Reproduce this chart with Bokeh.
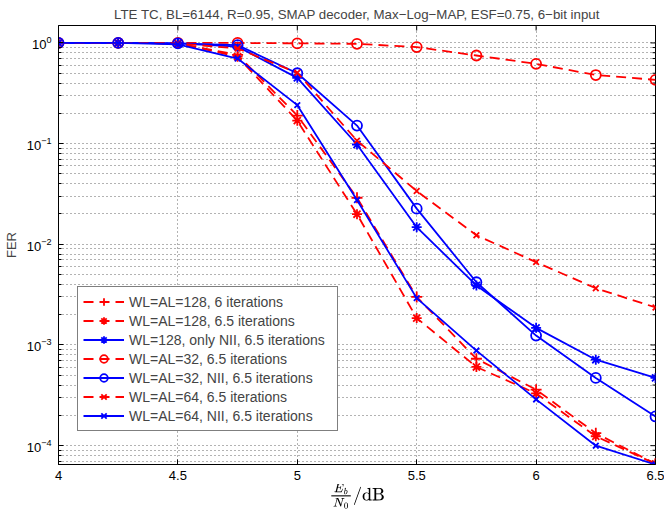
import math
from bokeh.plotting import figure
from bokeh.models import FixedTicker, Legend, LegendItem, Range1d, TeX
from bokeh.embed import file_html
from bokeh.resources import INLINE

# ---- data ----
ebn0 = [4.0, 4.25, 4.5, 4.75, 5.0, 5.25, 5.5, 5.75, 6.0, 6.25, 6.5]

fer_128_6it   = [1.0, 1.0, 0.99, 0.76, 0.19,  0.029,  0.0030, 7.3e-4, 3.6e-4,  1.33e-4, 6.6e-5]
fer_128_65it  = [1.0, 1.0, 0.99, 0.73, 0.169, 0.0199, 0.00185, 6.05e-4, 3.3e-4, 1.24e-4, 6.6e-5]
fer_128_nii   = [1.0, 1.0, 0.99, 0.92, 0.45,  0.098,  0.0148, 0.0039, 0.00148, 7.14e-4, 4.71e-4]
fer_32_65it   = [1.0, 1.0, 1.0,  1.0,  0.99,  0.98,   0.91,   0.75,   0.62,    0.48,    0.43]
fer_32_nii    = [1.0, 1.0, 0.99, 0.95, 0.50,  0.151,  0.0226, 0.0042, 0.00124, 4.71e-4, 1.95e-4]
fer_64_65it   = [1.0, 1.0, 0.99, 0.88, 0.506, 0.107,  0.0338, 0.0123, 0.00665, 0.00366, 0.00236]
fer_64_nii    = [1.0, 1.0, 0.97, 0.70, 0.241, 0.0275, 0.00292, 8.8e-4, 2.88e-4, 1.0e-4, 6.5e-5]

series_labels = [
    "WL=AL=128, 6 iterations",
    "WL=AL=128, 6.5 iterations",
    "WL=128, only NII, 6.5 iterations",
    "WL=AL=32, 6.5 iterations",
    "WL=AL=32, NII, 6.5 iterations",
    "WL=AL=64, 6.5 iterations",
    "WL=AL=64, NII, 6.5 iterations",
]

x_ticks = [4.0, 4.5, 5.0, 5.5, 6.0, 6.5]
y_ticks = [1e-4, 1e-3, 1e-2, 1e-1, 1.0]
y_minor = [m * 10.0 ** e for e in range(-5, 1) for m in range(2, 10)]

x_lo, x_hi = 4.0, 6.5
y_lo, y_hi = 6.5e-5, 1.49

title_text = "LTE TC, BL=6144, R=0.95, SMAP decoder, Max\u2212Log\u2212MAP, ESF=0.75, 6\u2212bit input"
xlabel_tex = r"\frac{E_b}{N_0}/\mathrm{dB}"

FONT = "Liberation Sans"
RED = "#ff0000"
BLUE = "#0000ff"

p = figure(width=664, height=511, y_axis_type="log",
           x_range=Range1d(x_lo, x_hi), y_range=Range1d(y_lo, y_hi),
           output_backend="svg", toolbar_location=None,
           min_border_left=52, min_border_right=9, min_border_top=24, min_border_bottom=43)

p.title.text = title_text
p.title.align = "center"
p.title.text_font = FONT
p.title.text_font_size = "13.3px"
p.title.text_font_style = "normal"
p.title.standoff = 8

p.outline_line_color = "black"
p.outline_line_width = 1
p.background_fill_color = "white"
p.border_fill_color = "white"

for ax in (p.xaxis[0], p.yaxis[0]):
    ax.axis_line_color = "black"
    ax.major_tick_line_color = "black"
    ax.minor_tick_line_color = "black"
    ax.major_tick_in = 5
    ax.major_tick_out = 0
    ax.minor_tick_in = 3
    ax.minor_tick_out = 0
    ax.major_label_text_font = FONT
    ax.major_label_text_font_size = "13px"
    ax.major_label_text_color = "black"

p.xaxis.major_label_standoff = 6
p.yaxis.major_label_standoff = 7

p.xaxis.ticker = FixedTicker(ticks=x_ticks)
p.yaxis.ticker = FixedTicker(ticks=y_ticks, minor_ticks=y_minor)

p.xaxis.axis_label = TeX(text=xlabel_tex, inline=True)
p.xaxis.axis_label_text_font_size = "14px"
p.xaxis.axis_label_text_color = "black"
p.xaxis.axis_label_standoff = 1

p.yaxis.axis_label = "FER"
p.yaxis.axis_label_text_font = FONT
p.yaxis.axis_label_text_font_size = "13px"
p.yaxis.axis_label_text_font_style = "normal"
p.yaxis.axis_label_standoff = 5

for g in (p.xgrid, p.ygrid):
    g.grid_line_color = "#666666"
    g.grid_line_dash = "1 3"
    g.grid_line_width = 1
p.ygrid.minor_grid_line_color = "#666666"
p.ygrid.minor_grid_line_dash = "1 3"
p.ygrid.minor_grid_line_width = 1

# inward ticks on the top and right edges of the box
p.scatter([x_hi] * len(y_ticks), y_ticks, marker="dash", size=10, line_color="black", line_width=1)
p.scatter([x_hi] * len(y_minor), y_minor, marker="dash", size=6, line_color="black", line_width=1)
p.scatter(x_ticks, [y_hi] * len(x_ticks), marker="dash", size=10, angle=math.pi / 2,
          line_color="black", line_width=1)

series = [
    (fer_128_6it,  RED,  "dashed", "cross",    11),
    (fer_128_65it, RED,  "dashed", "asterisk", 10),
    (fer_128_nii,  BLUE, "solid",  "asterisk", 10),
    (fer_32_65it,  RED,  "dashed", "circle",   10),
    (fer_32_nii,   BLUE, "solid",  "circle",   10),
    (fer_64_65it,  RED,  "dashed", "x",        8),
    (fer_64_nii,   BLUE, "solid",  "x",        8),
]

items = []
for (vals, col, style, mk, sz), lab in zip(series, series_labels):
    dash = "10 6" if style == "dashed" else "solid"
    lr = p.line(ebn0, vals, line_color=col, line_width=1.8, line_dash=dash)
    sr = p.scatter(ebn0, vals, marker=mk, size=sz, line_color=col, line_width=1.8,
                   fill_color=None)
    items.append(LegendItem(label=lab, renderers=[lr, sr]))

legend = Legend(items=items, location=(19, 33))
legend.label_text_font = FONT
legend.label_text_font_size = "14px"
legend.glyph_width = 41
legend.glyph_height = 19
legend.label_height = 19
legend.label_width = 203
legend.label_standoff = 5
legend.spacing = 0
legend.padding = 5
legend.margin = 0
legend.border_line_color = "black"
legend.border_line_width = 1
legend.background_fill_color = "white"
legend.background_fill_alpha = 1.0
p.add_layout(legend, "center")

open("out.html", "w").write(file_html(p, INLINE))
